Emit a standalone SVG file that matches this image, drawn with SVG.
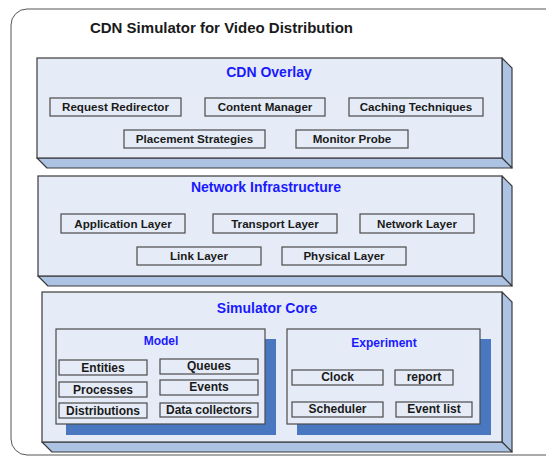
<svg xmlns="http://www.w3.org/2000/svg" width="546" height="456" viewBox="0 0 546 456">
<style>
.front{fill:#e6ecf7;stroke:#3a3a3a;stroke-width:1.2}
.side{fill:#adc3e3;stroke:#3a3a3a;stroke-width:1.2;stroke-linejoin:round}
.item{fill:#e6ecf7;stroke:#4a4a4a;stroke-width:1.2}
.shadow{fill:#4a78c0}
.t{font-family:"Liberation Sans",Arial,sans-serif;font-weight:bold;fill:#1a1a1a;text-anchor:middle}
.s{font-size:11.6px}
.m{font-size:12px}
.h{font-family:"Liberation Sans",Arial,sans-serif;font-weight:bold;fill:#1a1aff;text-anchor:middle}
</style>
<rect x="11" y="9" width="560" height="446" rx="16" fill="#ffffff" stroke="#555" stroke-width="1"/>
<text x="221.5" y="33" class="t" style="font-size:15px">CDN Simulator for Video Distribution</text>

<g id="cdn-overlay">
<polygon class="side" points="502,58 512,68 512,168 502,158"/>
<polygon class="side" points="37,158 502,158 512,168 47,168"/>
<rect class="front" x="37" y="58" width="465" height="100"/>
<text class="h" x="269" y="77" style="font-size:14px">CDN Overlay</text>
</g>
<g id="request-redirector"><rect class="item" x="50" y="98" width="131" height="18"/><text class="t s" x="115.5" y="111">Request Redirector</text></g>
<g id="content-manager"><rect class="item" x="205" y="98" width="120" height="18"/><text class="t s" x="265" y="111">Content Manager</text></g>
<g id="caching-techniques"><rect class="item" x="349" y="98" width="134" height="18"/><text class="t s" x="416" y="111">Caching Techniques</text></g>
<g id="placement-strategies"><rect class="item" x="124" y="130" width="141" height="18"/><text class="t s" x="194.5" y="143">Placement Strategies</text></g>
<g id="monitor-probe"><rect class="item" x="296" y="130" width="112" height="18"/><text class="t s" x="352" y="143">Monitor Probe</text></g>

<g id="network-infrastructure">
<polygon class="side" points="502,176 512,186 512,286 502,276"/>
<polygon class="side" points="38,276 502,276 512,286 48,286"/>
<rect class="front" x="38" y="176" width="464" height="100"/>
<text class="h" x="266" y="192" style="font-size:14px">Network Infrastructure</text>
</g>
<g id="application-layer"><rect class="item" x="61" y="214" width="124" height="19"/><text class="t s" x="123" y="227.5">Application Layer</text></g>
<g id="transport-layer"><rect class="item" x="213" y="214" width="124" height="19"/><text class="t s" x="275" y="227.5">Transport Layer</text></g>
<g id="network-layer"><rect class="item" x="360" y="214" width="114" height="19"/><text class="t s" x="417" y="227.5">Network Layer</text></g>
<g id="link-layer"><rect class="item" x="137" y="247" width="124" height="18"/><text class="t s" x="199" y="259.5">Link Layer</text></g>
<g id="physical-layer"><rect class="item" x="282" y="247" width="124" height="18"/><text class="t s" x="344" y="259.5">Physical Layer</text></g>

<g id="simulator-core">
<polygon class="side" points="502,292 512,302 512,452 502,442"/>
<polygon class="side" points="42,442 502,442 512,452 52,452"/>
<rect class="front" x="42" y="292" width="460" height="150"/>
<text class="h" x="267" y="313" style="font-size:14px">Simulator Core</text>
</g>

<g id="model">
<rect class="shadow" x="66" y="339" width="210" height="96"/>
<rect class="item" x="56" y="329" width="209" height="95"/>
<text class="h m" x="161" y="345">Model</text>
</g>
<g id="entities"><rect class="item" x="59" y="360" width="88" height="15"/><text class="t m" x="103" y="372">Entities</text></g>
<g id="queues"><rect class="item" x="160" y="359" width="98" height="15"/><text class="t m" x="209" y="370">Queues</text></g>
<g id="processes"><rect class="item" x="59" y="382" width="88" height="15"/><text class="t m" x="103" y="394">Processes</text></g>
<g id="events"><rect class="item" x="160" y="380" width="98" height="15"/><text class="t m" x="209" y="391">Events</text></g>
<g id="distributions"><rect class="item" x="59" y="403" width="88" height="15"/><text class="t m" x="103" y="415">Distributions</text></g>
<g id="data-collectors"><rect class="item" x="160" y="403" width="98" height="14"/><text class="t m" x="209" y="414">Data collectors</text></g>

<g id="experiment">
<rect class="shadow" x="297" y="339" width="194" height="96"/>
<rect class="item" x="287" y="329" width="193" height="95"/>
<text class="h m" x="384" y="347">Experiment</text>
</g>
<g id="clock"><rect class="item" x="292" y="370" width="91" height="15"/><text class="t m" x="337.5" y="381">Clock</text></g>
<g id="report"><rect class="item" x="395" y="370" width="58" height="15"/><text class="t m" x="424" y="381">report</text></g>
<g id="scheduler"><rect class="item" x="292" y="402" width="91" height="15"/><text class="t m" x="337.5" y="413">Scheduler</text></g>
<g id="event-list"><rect class="item" x="396" y="402" width="76" height="15"/><text class="t m" x="434" y="413">Event list</text></g>
<g id="connectors"></g>
</svg>
